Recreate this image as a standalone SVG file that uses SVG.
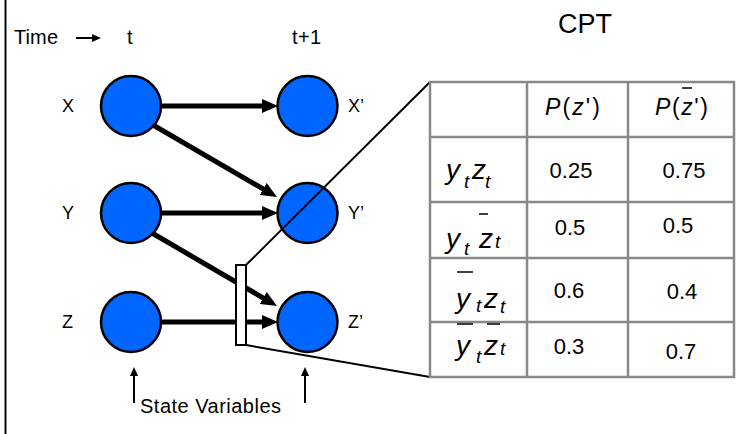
<svg xmlns="http://www.w3.org/2000/svg" width="756" height="434" viewBox="0 0 756 434">
<style>
text{font-family:"Liberation Sans",Arial,sans-serif;fill:#000}
.lbl{font-size:18px}
.node circle{fill:#0066ff;stroke:#000;stroke-width:2.5}
.edge{stroke:#000;stroke-width:5;fill:none;marker-end:url(#big)}
.thin{stroke:#000;stroke-width:2;fill:none;marker-end:url(#small)}
.grid{stroke:#888;stroke-width:2.5;fill:none}
.num{font-size:22px;text-anchor:middle}
.it{font-style:italic}
.ov{stroke:#000;stroke-width:1.5}
</style>
<defs>
<marker id="big" markerUnits="userSpaceOnUse" markerWidth="16" markerHeight="14" viewBox="0 0 16 14" refX="8" refY="7" orient="auto"><path d="M0,0 L16,7 L0,14 z" fill="#000"/></marker>
<marker id="small" markerUnits="userSpaceOnUse" markerWidth="9" markerHeight="8" viewBox="0 0 9 8" refX="4" refY="4" orient="auto"><path d="M0,0 L9,4 L0,8 z" fill="#000"/></marker>
</defs>
<rect width="756" height="434" fill="#fff"/>
<line x1="5.5" y1="0" x2="5.5" y2="434" stroke="#000" stroke-width="2"/>

<text x="14" y="44" font-size="20" textLength="44">Time</text>
<text x="127" y="44" font-size="20">t</text>
<text x="292" y="44" font-size="20" textLength="29">t+1</text>
<text x="558" y="33" font-size="27" textLength="54">CPT</text>

<g id="connectors">
<line class="thin" x1="76" y1="38" x2="96" y2="38"/>
<line class="edge" x1="161" y1="106" x2="270" y2="106"/>
<line class="edge" x1="153" y1="125" x2="270.1" y2="193"/>
<line class="edge" x1="161" y1="213" x2="270" y2="213"/>
<line class="edge" x1="152" y1="233" x2="270.1" y2="302"/>
<line class="edge" x1="161" y1="322" x2="270" y2="322"/>
<line class="thin" x1="134" y1="403" x2="134" y2="372"/>
<line class="thin" x1="305" y1="403" x2="305" y2="372"/>
</g>

<g id="X" class="node"><circle cx="131" cy="106" r="30"/><text class="lbl" x="62" y="112">X</text></g>
<g id="Y" class="node"><circle cx="131" cy="213" r="30"/><text class="lbl" x="62" y="219">Y</text></g>
<g id="Z" class="node"><circle cx="131" cy="322" r="30"/><text class="lbl" x="62" y="328">Z</text></g>
<g id="Xp" class="node"><circle cx="307.5" cy="106" r="30"/><text class="lbl" x="348" y="112">X’</text></g>
<g id="Yp" class="node"><circle cx="307.5" cy="213" r="30"/><text class="lbl" x="348" y="219">Y’</text></g>
<g id="Zp" class="node"><circle cx="307.5" cy="322" r="30"/><text class="lbl" x="348" y="328">Z’</text></g>

<text x="140" y="413" font-size="20" textLength="141">State  Variables</text>

<g id="callout">
<rect x="236" y="265" width="10" height="80" fill="#fff" stroke="#000" stroke-width="2"/>
<line x1="246" y1="265" x2="430" y2="82" stroke="#000" stroke-width="2"/>
<line x1="246" y1="345" x2="430" y2="377" stroke="#000" stroke-width="2"/>
</g>

<g id="cpt">
<rect x="430" y="82" width="304" height="295" fill="#fff"/>
<path class="grid" d="M430,82 H734 V377 H430 Z M527,82 V377 M628,82 V377 M430,137 H734 M430,202 H734 M430,258 H734 M430,322 H734"/>
<text x="545" y="115" font-size="23" textLength="55"><tspan class="it">P</tspan>(<tspan class="it">z</tspan>')</text>
<text x="655" y="115" font-size="23" textLength="53"><tspan class="it">P</tspan>(<tspan class="it">z</tspan>')</text>
<line class="ov" x1="682" y1="88" x2="692" y2="88"/>

<text class="num" x="571" y="178">0.25</text><text class="num" x="684" y="178">0.75</text>
<text class="num" x="570" y="235">0.5</text><text class="num" x="678" y="233">0.5</text>
<text class="num" x="569" y="298">0.6</text><text class="num" x="682" y="299">0.4</text>
<text class="num" x="569" y="354">0.3</text><text class="num" x="681" y="359">0.7</text>

<g class="it" font-size="28">
<text x="446" y="179">y</text><text x="464" y="188" font-size="19">t</text><text x="472" y="179">z</text><text x="485" y="188" font-size="19">t</text>
<text x="446" y="248">y</text><text x="464" y="255" font-size="19">t</text><text x="479" y="248">z</text><text x="495" y="248" font-size="19">t</text>
<text x="456" y="308">y</text><text x="476" y="312" font-size="19">t</text><text x="484" y="308">z</text><text x="500" y="313" font-size="19">t</text>
<text x="456" y="355">y</text><text x="476" y="363" font-size="19">t</text><text x="484" y="355">z</text><text x="500" y="355" font-size="19">t</text>
</g>
<line class="ov" x1="479" y1="214" x2="488" y2="214"/>
<line class="ov" x1="457" y1="272" x2="473" y2="272"/>
<line class="ov" x1="457" y1="324" x2="473" y2="324"/>
<line class="ov" x1="487" y1="324" x2="500" y2="324"/>
</g>
</svg>
